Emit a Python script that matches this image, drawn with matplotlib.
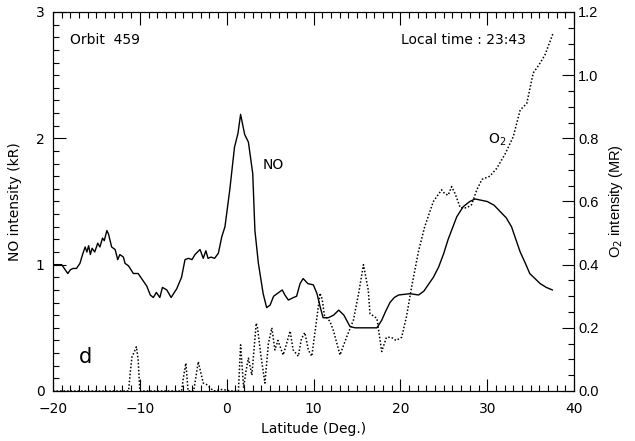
import numpy as np
import matplotlib
matplotlib.use("Agg")
import matplotlib.pyplot as plt
from matplotlib.ticker import MultipleLocator, FormatStrFormatter

# NO intensity (kR) vs latitude
no_lat = [-20, -19.0, -18.6, -18.3, -18.0, -17.7, -17.3, -16.9, -16.6, -16.3, -16.1, -15.9,
          -15.7, -15.5, -15.2, -14.85, -14.6, -14.3, -14.1, -13.8, -13.6, -13.25, -12.85,
          -12.55, -12.3, -11.9, -11.7, -11.3, -10.75, -10.2, -9.7, -9.2, -8.8, -8.45, -8.1,
          -7.7, -7.4, -6.9, -6.4, -5.75, -5.2, -4.8, -4.4, -4.0, -3.65, -3.07, -2.7, -2.4,
          -2.15, -1.8, -1.4, -0.96, -0.57, -0.2, 0.35, 0.9, 1.3, 1.6, 2.07, 2.5, 3.0, 3.25,
          3.65, 4.2, 4.6, 5.0, 5.4, 6.0, 6.4, 6.7, 7.1, 7.7, 8.05, 8.45, 8.8, 9.35, 9.98,
          10.4, 10.75, 11.1, 11.7, 12.3, 12.9, 13.5, 14.2, 14.8, 15.5, 16.3, 17.3, 17.85,
          18.3, 18.8, 19.3, 19.8, 21.1, 22.1, 22.7, 23.2, 23.8, 24.4, 25.0, 25.5, 26.0,
          26.5, 27.25, 28.0, 28.6, 29.3, 30.0, 30.8, 31.5, 32.2, 32.8, 33.3, 33.8, 34.4,
          34.9, 35.5, 36.1, 36.8, 37.5]
no_val = [1.00, 1.00, 0.96, 0.93, 0.96, 0.97, 0.97, 1.01, 1.08, 1.14, 1.10, 1.15,
          1.08, 1.13, 1.10, 1.17, 1.14, 1.21, 1.19, 1.27, 1.24, 1.14, 1.12,
          1.04, 1.08, 1.06, 1.01, 0.99, 0.93, 0.93, 0.88, 0.83, 0.76, 0.74, 0.78,
          0.74, 0.82, 0.80, 0.74, 0.81, 0.90, 1.04, 1.05, 1.04, 1.08, 1.12, 1.05, 1.11,
          1.05, 1.06, 1.05, 1.09, 1.22, 1.30, 1.59, 1.93, 2.04, 2.19, 2.03, 1.97, 1.72, 1.27,
          1.01, 0.77, 0.66, 0.68, 0.75, 0.78, 0.80, 0.76, 0.72, 0.74, 0.75, 0.85, 0.89, 0.85, 0.84,
          0.77, 0.67, 0.58, 0.58, 0.60, 0.64, 0.60, 0.51, 0.50, 0.50, 0.50, 0.50, 0.56,
          0.63, 0.70, 0.74, 0.76, 0.77, 0.76, 0.79, 0.84, 0.90, 0.98, 1.09, 1.20, 1.29,
          1.38, 1.46, 1.50, 1.52, 1.51, 1.50, 1.47, 1.42, 1.37, 1.30, 1.20, 1.10, 1.01,
          0.93, 0.89, 0.85, 0.82, 0.80]

# O2 intensity (MR) vs latitude
o2_lat = [-20, -11.3, -11.1, -10.9, -10.7, -10.4, -10.2, -10.0, -5.2, -5.0, -4.7, -4.45,
          -3.8, -3.27, -3.0, -2.7, -2.3, -1.5, -0.5, 0.5, 1.35, 1.6, 1.95, 2.2, 2.5, 2.9,
          3.4, 3.55, 3.95, 4.4, 4.8, 5.2, 5.55, 5.9, 6.5, 6.9, 7.3, 7.65, 8.25, 8.6, 9.0,
          9.4, 9.8, 10.4, 10.75, 11.0, 11.25, 11.9, 12.3, 13.05, 13.8, 14.6, 15.2,
          15.75, 16.3, 16.5, 17.3, 17.85, 18.4, 18.95, 19.5, 20.15, 20.7, 21.3, 22.07, 22.8,
          23.8, 24.75, 25.1, 25.5, 25.9, 26.3, 26.9, 27.65, 28.2, 28.8, 29.4, 30.3, 31.1,
          32.05, 33.0, 33.8, 34.55, 35.3, 35.9, 36.65, 37.55]
o2_val = [0.0, 0.0, 0.06, 0.11, 0.12, 0.14, 0.10, 0.0, 0.0, 0.04, 0.088, 0.0,
          0.0, 0.093, 0.06, 0.025, 0.02, 0.0, 0.005, 0.0, 0.0, 0.146, 0.01, 0.06, 0.104, 0.05,
          0.215, 0.20, 0.11, 0.025, 0.15, 0.20, 0.13, 0.16, 0.114, 0.15, 0.19, 0.13, 0.11, 0.165, 0.185,
          0.13, 0.11, 0.235, 0.31, 0.29, 0.24, 0.22, 0.19, 0.114, 0.17, 0.225, 0.31,
          0.40, 0.32, 0.245, 0.23, 0.125, 0.17, 0.17, 0.16, 0.17, 0.235, 0.33, 0.44, 0.52,
          0.60, 0.637, 0.625, 0.62, 0.647, 0.625, 0.58, 0.58, 0.59, 0.637, 0.67, 0.68, 0.705,
          0.75, 0.805, 0.89, 0.91, 1.007, 1.03, 1.064, 1.13]

fig = plt.figure(figsize=(6.35, 4.41), dpi=100)
ax = fig.add_axes([0.0835, 0.1134, 0.8205, 0.8594])

ax.plot(no_lat, no_val, "k-", lw=1.0)
ax.set_xlim(-20, 40)
ax.set_ylim(0, 3)
ax.xaxis.set_major_locator(MultipleLocator(10))
ax.xaxis.set_minor_locator(MultipleLocator(1))
ax.yaxis.set_major_locator(MultipleLocator(1))
ax.yaxis.set_minor_locator(MultipleLocator(0.1))
ax.tick_params(which="both", direction="in", top=True, right=False, labelsize=10)
ax.tick_params(which="major", length=9, width=0.8)
ax.tick_params(which="minor", length=4, width=0.8)
ax.tick_params(axis="x", pad=8)
ax.tick_params(axis="y", pad=6)
ax.set_xlabel("Latitude (Deg.)", fontsize=10, labelpad=4)
ax.set_ylabel("NO intensity (kR)", fontsize=10, labelpad=10)

ax2 = ax.twinx()
ax2.plot(o2_lat, o2_val, color="k", lw=1.1, linestyle=(0, (1, 1.3)))
ax2.set_ylim(0, 1.2)
ax2.yaxis.set_major_locator(MultipleLocator(0.2))
ax2.yaxis.set_minor_locator(MultipleLocator(0.05))
ax2.yaxis.set_major_formatter(FormatStrFormatter("%.1f"))
ax2.tick_params(which="both", direction="in", pad=3)
ax2.tick_params(which="major", length=9, width=0.8)
ax2.tick_params(which="minor", length=4, width=0.8)
for lab in ax2.get_yticklabels():
    lab.set_family("Liberation Sans")
    lab.set_fontsize(10.5)
ax2.set_ylabel("O$_2$ intensity (MR)", fontsize=10.5, family="Liberation Sans", labelpad=6)

ax.text(-18.1, 2.78, "Orbit  459", fontsize=10, va="center")
ax.text(34.4, 2.78, "Local time : 23:43", fontsize=10, va="center", ha="right")
ax.text(4.1, 1.79, "NO", fontsize=10, va="center")
ax.text(30.1, 1.99, "O$_2$", fontsize=10, va="center")
ax.text(-17.0, 0.27, "d", fontsize=15, va="center")

fig.savefig("out.png", dpi=100)
